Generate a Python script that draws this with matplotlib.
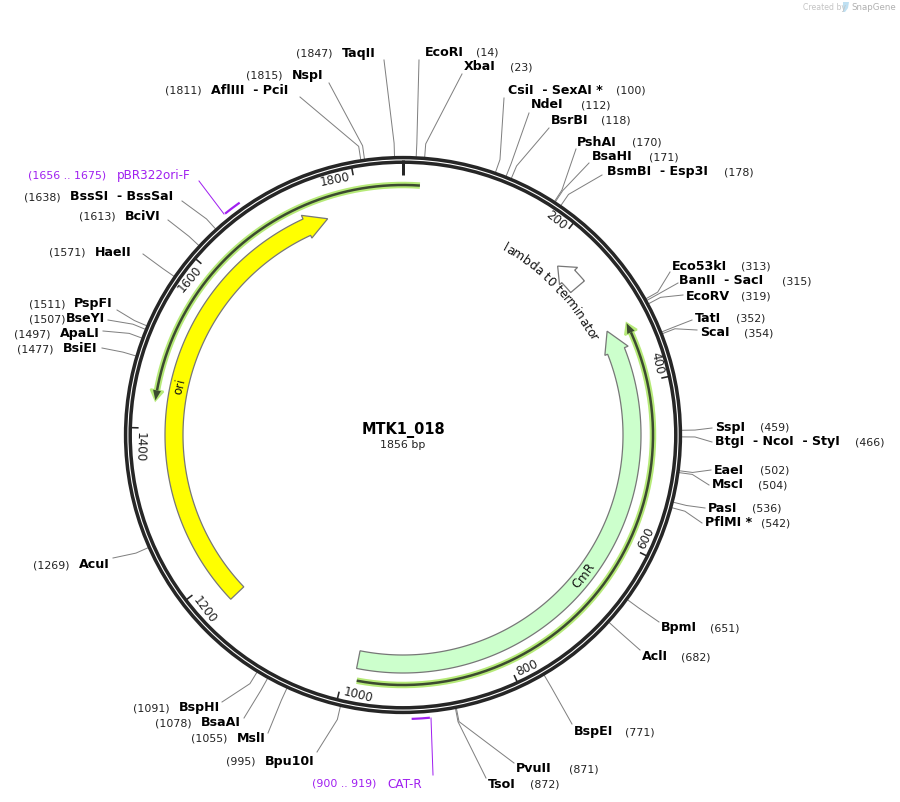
import numpy as np
import matplotlib
matplotlib.use('Agg')
import matplotlib.pyplot as plt
from matplotlib.patches import Circle, Polygon
from matplotlib.textpath import TextPath
from matplotlib.font_manager import FontProperties

plasmid_name = 'MTK1_018'
plasmid_len = 1856

tick_bp = [200, 400, 600, 800, 1000, 1200, 1400, 1600, 1800]

# restriction sites
site_names = ['EcoRI', 'XbaI', 'CsiI  - SexAI *', 'NdeI', 'BsrBI', 'PshAI', 'BsaHI', 'BsmBI  - Esp3I',
              'Eco53kI', 'BanII  - SacI', 'EcoRV', 'TatI', 'ScaI', 'SspI', 'BtgI  - NcoI  - StyI',
              'EaeI', 'MscI', 'PasI', 'PflMI *', 'BpmI', 'AclI', 'BspEI', 'PvuII', 'TsoI',
              'Bpu10I', 'MslI', 'BsaAI', 'BspHI', 'AcuI', 'BsiEI', 'ApaLI', 'BseYI', 'PspFI',
              'HaeII', 'BciVI', 'BssSI  - BssSaI', 'AflIII  - PciI', 'NspI', 'TaqII']
site_bp = [14, 23, 100, 112, 118, 170, 171, 178, 313, 315, 319, 352, 354, 459, 466, 502, 504, 536, 542,
           651, 682, 771, 871, 872, 995, 1055, 1078, 1091, 1269, 1477, 1497, 1507, 1511, 1571, 1613,
           1638, 1811, 1815, 1847]

# layout of the site labels, pixels: name x, text y, number x, far end of the leader
site_x = [425, 464, 508, 531, 551, 577, 592, 607, 672, 679, 686, 695, 700, 715, 715, 714, 712, 708, 705,
          661, 642, 574, 516, 488, 265, 237, 201, 179, 79, 63, 60, 66, 74, 95, 125, 70, 211, 292, 342]
site_y = [52, 67, 90, 105, 120, 142, 157, 172, 266, 281, 296, 318, 333, 427, 442, 470, 485, 508, 523,
          628, 657, 732, 769, 784, 761, 738, 723, 708, 565, 349, 334, 319, 304, 252, 216, 197, 90, 75, 53]
num_x = [476, 510, 616, 581, 601, 632, 649, 724, 741, 782, 741, 736, 744, 760, 855, 760, 758, 752, 761,
         710, 681, 625, 569, 530, 226, 191, 155, 133, 33, 17, 14, 29, 29, 49, 79, 24, 165, 246, 296]
end_x = [419, 462, 504, 529, 549, 576, 589, 602, 670, 678, 683, 692, 697, 712, 712, 711, 709, 705, 702,
         659, 640, 572, 514, 486, 317, 268, 244, 222, 113, 102, 103, 108, 117, 143, 168, 182, 300, 329, 384]
end_y = [60, 74, 98, 113, 128, 149, 163, 175, 272, 283, 295, 320, 330, 428, 442, 470, 485, 508, 523,
         622, 650, 724, 763, 778, 752, 733, 718, 702, 558, 348, 331, 320, 310, 254, 220, 201, 97, 83, 60]

primer_names = ['pBR322ori-F', 'CAT-R']
primer_start = [1656, 900]
primer_end = [1675, 919]

ink = '#262626'
purple = '#a020f0'

fig = plt.figure(figsize=(9, 8.02), dpi=100)
ax = fig.add_axes([0, 0, 1, 1])
ax.set_xlim(0, 900)
ax.set_ylim(802, 0)
ax.axis('off')

cx, cy = 403, 435
px = 0.72  # points per pixel


def pos(bp, r):
    a = np.radians(np.asarray(bp) / plasmid_len * 360)
    return cx + r * np.sin(a), cy - r * np.cos(a)


def arc(b0, b1, r):
    b = np.linspace(b0, b1, 200)
    return np.column_stack(pos(b, r))


def upright(bp):
    # rotation of text laid along the circle, flipped so it can be read
    deg = bp / plasmid_len * 360
    if deg < 90:
        return -deg
    if deg < 273:
        return 180 - deg
    return 360 - deg


def feature(tail, head_base, tip, fc, ec='#777777', r0=220, r1=238):
    pts = np.vstack([arc(tail, head_base, r1), np.column_stack(pos(head_base, 242)),
                     np.column_stack(pos(tip, (r0 + r1) / 2)), np.column_stack(pos(head_base, 217)),
                     arc(head_base, tail, r0)])
    ax.add_patch(Polygon(pts, closed=True, fc=fc, ec=ec, lw=0.9, zorder=3))


def primer_arrow(tail, tip, back):
    xy = arc(tail, tip + back, 250)
    ax.plot(xy[:, 0], xy[:, 1], color='#b6ea78', lw=6.5 * px, solid_capstyle='butt', zorder=2)
    head = np.vstack([np.column_stack(pos(tip + back, 256.5)), np.column_stack(pos(tip, 250)),
                      np.column_stack(pos(tip + back, 243.5))])
    ax.add_patch(Polygon(head, closed=True, fc='#b6ea78', ec='#b6ea78', lw=2 * px, zorder=2))
    ax.plot(xy[:, 0], xy[:, 1], color='#3c4a30', lw=2.5 * px, solid_capstyle='butt', zorder=3)
    head = np.vstack([np.column_stack(pos(tip + back, 254)), np.column_stack(pos(tip, 250)),
                      np.column_stack(pos(tip + back, 246))])
    ax.add_patch(Polygon(head, closed=True, fc='#3c4a30', ec='none', zorder=3))


def curved_text(s, mid_bp, r, size, flip=False):
    # one text per character, spaced by the real glyph widths
    fp = FontProperties(family='DejaVu Sans', size=size)
    base = TextPath((0, 0), 'n', prop=fp).get_extents().x1
    adv = [size * 0.32 if c == ' ' else TextPath((0, 0), c + 'n', prop=fp).get_extents().x1 - base for c in s]
    total = sum(adv) / px
    dbp = plasmid_len / (2 * np.pi * r)
    run = -total / 2
    for c, a in zip(s, adv):
        w = a / px
        b = mid_bp + (run + w / 2) * dbp * (-1 if flip else 1)
        x, y = pos(b, r)
        ax.text(x, y, c, fontsize=size, rotation=upright(b), rotation_mode='anchor',
                ha='center', va='center', color='#111111', zorder=5)
        run += w


# backbone, two rings
for r in (277.4, 272.8):
    ax.add_patch(Circle((cx, cy), r, fc='none', ec=ink, lw=3.5 * px, zorder=4))

# ticks
x0, y0 = pos(0, 275)
x1, y1 = pos(0, 260)
ax.plot([x0, x1], [y0, y1], color=ink, lw=3 * px, solid_capstyle='butt', zorder=4)
for b in tick_bp:
    x0, y0 = pos(b, 272)
    x1, y1 = pos(b, 264.5)
    ax.plot([x0, x1], [y0, y1], color=ink, lw=1.6 * px, solid_capstyle='butt', zorder=4)
    half = 15 if b < 1000 else 19
    x, y = pos(b - half * plasmid_len / (2 * np.pi * 264), 264)
    ax.text(x, y, str(b), fontsize=12 * px, rotation=upright(b), rotation_mode='anchor',
            ha='center', va='center', color='#222222', zorder=5)

# features
feature(1167, 1728, 1757, '#ffff00')
feature(986, 353, 325, '#ccffcc')
feature(256, 238, 219, 'white')
curved_text('ori', 1455, 229, 12 * px)
curved_text('CmR', 660, 229, 12 * px, flip=True)
curved_text('lambda t0 terminator', 236.5, 213, 12.3 * px)

# primer binding arrows
primer_arrow(20, 1433 - plasmid_len, 12)
primer_arrow(983, 327, 12)

# restriction sites
for name, bp, tx, ty, nx, ex, ey in zip(site_names, site_bp, site_x, site_y, num_x, end_x, end_y):
    kx, ky = pos(bp, 292)
    rx, ry = pos(bp, 279)
    ax.plot([rx, kx, ex], [ry, ky, ey], color='#808080', lw=1 * px, zorder=1)
    ax.text(tx, ty, name, fontsize=12.6 * px, fontweight='bold', ha='left', va='center', color='black')
    ax.text(nx, ty + 0.5, '(%d)' % bp, fontsize=11 * px, ha='left', va='center', color='#222222')

# primer sites
for start, end in zip(primer_start, primer_end):
    xy = arc(start, end, 284)
    ax.plot(xy[:, 0], xy[:, 1], color=purple, lw=2.2 * px, solid_capstyle='butt')
ax.plot([224, 199], [214, 181], color=purple, lw=1 * px)
ax.plot([431, 433], [718, 775], color=purple, lw=1 * px)
ax.text(28, 175, '(%d .. %d)' % (primer_start[0], primer_end[0]), fontsize=11 * px, color=purple, va='center')
ax.text(117, 175, primer_names[0], fontsize=12 * px, color=purple, va='center')
ax.text(312, 784, '(%d .. %d)' % (primer_start[1], primer_end[1]), fontsize=11 * px, color=purple, va='center')
ax.text(387, 784, primer_names[1], fontsize=12 * px, color=purple, va='center')

# centre title
ax.text(403, 430, plasmid_name, fontsize=14.5 * px, fontweight='bold', ha='center', va='center', color='black')
ax.text(403, 445, '%d bp' % plasmid_len, fontsize=11 * px, ha='center', va='center', color='#222222')

# watermark
ax.text(803, 7.5, 'Created by', fontsize=7.8 * px, color='#c4c4c4', va='center')
ax.add_patch(Polygon([[843, 2], [849, 2], [848, 8], [845, 12], [843, 12]], closed=True, fc='#bfe0f2', ec='none'))
ax.text(851, 7.5, 'SnapGene', fontsize=8.6 * px, color='#b0b0b0', va='center')

fig.savefig('out.png', dpi=100)
